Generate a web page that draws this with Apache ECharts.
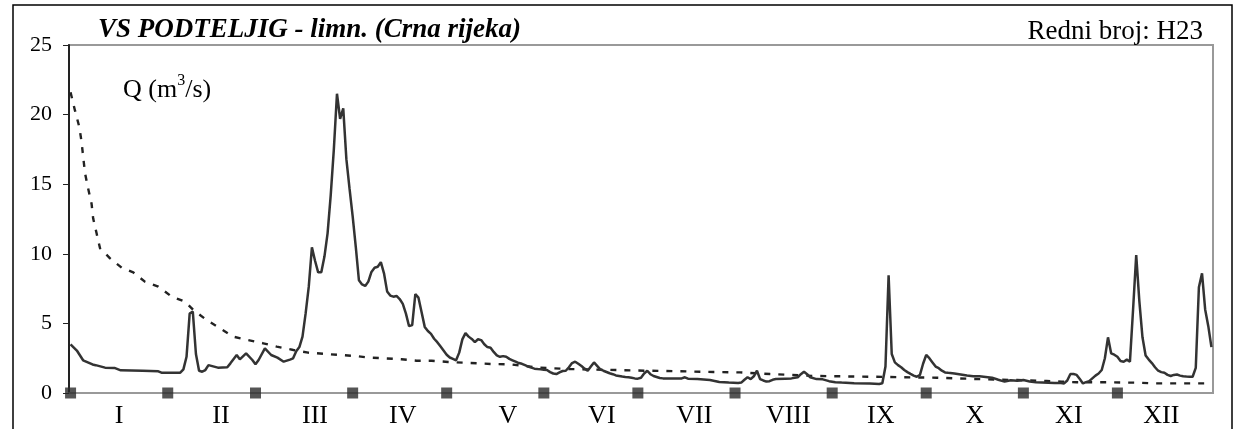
<!DOCTYPE html>
<html>
<head>
<meta charset="utf-8">
<script src="https://cdn.jsdelivr.net/npm/echarts@6/dist/echarts.min.js"></script>
<style>
html,body{margin:0;padding:0;background:#fff;}
#chart{width:1234px;height:429px;}
</style>
</head>
<body>
<div id="chart"></div>
<script>
// ---- data ----
const monthNames = ['I','II','III','IV','V','VI','VII','VIII','IX','X','XI','XII'];
const monthStartDays = [0,31,59,90,120,151,181,212,243,273,304,334];
const monthLabelDays = [15.5,48,78,106,139.5,169.5,199,229,258.5,288.5,318.5,348];
const yTicks = [0,5,10,15,20,25];

const flowDays = [0,2,4,7,8,11,14,16,23,28,29,35,36,37,38,39,40,41,42,43,44,47,50,51,53,54,56,58,59,60,62,64,66,68,70,71,72,73,74,75,76,77,78,79,80,81,82,83,84,85,86,87,88,89,90,91,92,93,94,95,96,97,98,99,100,101,102,103,104,105,106,107,108,109,110,111,112,113,114,115,116,117,118,119,120,121,122,123,124,125,126,127,128,129,130,131,132,133,134,135,136,137,138,139,140,141,142,143,144,145,146,147,148,149,150,151,152,153,154,155,156,157,158,159,160,161,162,163,164,165,166,167,168,169,170,171,172,173,174,175,176,177,178,179,180,181,182,183,184,185,186,187,188,189,192,195,196,197,200,204,207,210,213,214,215,216,217,218,219,220,221,222,223,224,225,228,230,232,233,234,235,236,238,240,242,244,246,250,255,258,259,260,261,262,263,264,265,266,267,268,269,270,271,272,273,274,275,276,277,278,279,280,282,284,286,288,290,292,294,296,298,300,302,304,306,308,310,312,314,316,317,318,319,320,321,322,323,324,325,326,327,328,329,330,331,332,333,334,335,336,337,338,339,340,341,342,343,344,345,346,347,348,349,350,351,352,353,354,355,356,357,358,359,360,361,362,363,364];
const flowValues = [3.5,3.05,2.35,2.05,2.0,1.82,1.8,1.63,1.6,1.56,1.46,1.46,1.7,2.6,5.7,5.85,2.8,1.6,1.53,1.65,2.0,1.82,1.85,2.13,2.73,2.42,2.85,2.37,2.06,2.37,3.2,2.73,2.54,2.25,2.4,2.49,3.0,3.3,4.05,5.72,7.64,10.46,9.5,8.67,8.67,9.8,11.47,14.2,17.5,21.5,19.7,20.45,16.8,14.7,12.7,10.5,8.1,7.8,7.69,8.0,8.7,9.0,9.07,9.4,8.6,7.3,7.0,6.92,6.97,6.75,6.4,5.7,4.8,4.88,7.1,6.85,5.8,4.75,4.45,4.25,3.9,3.65,3.35,3.05,2.75,2.55,2.45,2.35,2.9,3.85,4.3,4.05,3.88,3.65,3.86,3.8,3.5,3.3,3.25,2.95,2.7,2.6,2.65,2.6,2.45,2.35,2.25,2.15,2.1,2.0,1.9,1.82,1.75,1.72,1.7,1.67,1.65,1.5,1.4,1.36,1.48,1.58,1.6,1.85,2.15,2.25,2.1,1.94,1.75,1.6,1.9,2.2,1.95,1.7,1.6,1.51,1.42,1.35,1.26,1.22,1.18,1.15,1.13,1.1,1.05,1.03,1.1,1.4,1.6,1.35,1.22,1.15,1.08,1.05,1.05,1.05,1.13,1.03,1.0,0.93,0.79,0.75,0.72,0.75,0.95,1.13,1.0,1.2,1.6,1.0,0.9,0.82,0.85,0.95,1.0,1.03,1.05,1.13,1.35,1.53,1.35,1.13,1.0,0.98,0.85,0.78,0.75,0.7,0.68,0.65,0.7,1.9,8.45,2.8,2.2,2.0,1.85,1.65,1.5,1.37,1.25,1.17,1.3,2.1,2.73,2.5,2.2,1.9,1.78,1.6,1.48,1.45,1.4,1.33,1.25,1.2,1.2,1.15,1.1,0.95,0.82,0.92,0.88,0.93,0.82,0.77,0.76,0.74,0.72,0.72,0.69,0.9,1.36,1.36,1.3,1.0,0.69,0.78,0.85,1.05,1.25,1.4,1.65,2.5,4.0,2.85,2.75,2.6,2.3,2.25,2.4,2.25,6.0,9.9,6.6,4.0,2.7,2.4,2.15,1.85,1.6,1.5,1.45,1.3,1.22,1.3,1.33,1.25,1.2,1.18,1.17,1.17,1.8,7.6,8.6,6.0,4.8,3.3];

const durDays = [0,1.4,2.8,3.5,4.6,5.6,6.7,7.2,8.3,9.4,12.6,16.3,20,23.7,28,32.3,36.5,39.2,43.4,47.7,51.9,56.7,61.5,65.8,71.1,75.8,81.7,86,90.7,95.5,100.3,105.6,110.4,115.2,120.5,125.3,130.1,134.4,140.2,149.8,154,159.4,174.2,183.8,194.4,205.1,213.6,223.2,238.1,255.1,265.6,276.4,292.3,301.9,311.4,316.2,321,330.6,340.2,345.5,362];
const durValues = [21.6,20.3,19.1,18.05,15.8,14.7,13.6,12.55,11.47,10.4,9.67,9.0,8.67,8.0,7.64,6.92,6.56,5.96,5.24,4.65,4.05,3.8,3.57,3.33,3.09,2.9,2.8,2.73,2.66,2.54,2.49,2.42,2.32,2.32,2.23,2.18,2.13,2.08,2.06,1.82,1.77,1.72,1.65,1.6,1.56,1.51,1.48,1.36,1.22,1.17,1.13,1.1,0.98,0.93,0.86,0.81,0.77,0.77,0.74,0.69,0.69];

// ---- chart ----
const chart = echarts.init(document.getElementById('chart'), null, {renderer:'canvas'});
const serif = 'Liberation Serif';
const flowData = flowDays.map((d,i)=>[d, flowValues[i]]);
const durData = durDays.map((d,i)=>[d, durValues[i]]);
const markerData = monthStartDays.map(d=>[d,0]);

chart.setOption({
  animation:false,
  backgroundColor:'#fff',
  grid:{left:69, right:21, top:45, bottom:36, show:true, borderColor:'#999', borderWidth:2, backgroundColor:'transparent'},
  xAxis:{
    type:'value', min:-0.5, max:364.5,
    axisLine:{show:true, onZero:false, lineStyle:{color:'#999', width:2}},
    axisTick:{show:false},
    splitLine:{show:false},
    axisLabel:{
      customValues: monthLabelDays,
      formatter:(v)=>{const i=monthLabelDays.indexOf(v); return i>=0?monthNames[i]:'';},
      fontFamily:serif, fontSize:26, color:'#000', margin:10
    }
  },
  yAxis:{
    type:'value', min:0, max:25, interval:5,
    axisLine:{show:true, onZero:false, lineStyle:{color:'#222', width:2}},
    axisTick:{show:true, length:6, lineStyle:{color:'#222', width:1}},
    splitLine:{show:false},
    axisLabel:{fontFamily:serif, fontSize:22, color:'#000', margin:17,
      formatter:(v)=> yTicks.indexOf(v)>=0 ? String(v) : ''}
  },
  series:[
    {type:'line', name:'duration', data:durData, showSymbol:false, symbol:'none', z:2,
     lineStyle:{color:'#222', width:2.4, type:[6,8]}},
    {type:'line', name:'flow', data:flowData, showSymbol:false, symbol:'none', z:3,
     lineStyle:{color:'#333', width:2.5}},
    {type:'scatter', name:'months', data:markerData, symbol:'rect', symbolSize:11, clip:false, z:5,
     itemStyle:{color:'#2a2a2a'}}
  ],
  graphic:[
    {type:'rect', z:-1, shape:{x:13, y:5, width:1219, height:440}, style:{fill:'none', stroke:'#000', lineWidth:1.5}},
    {type:'text', x:98, y:44, style:{text:'VS PODTELJIG - limn. (Crna rijeka)', font:'italic bold 27px Liberation Serif', fill:'#000', textAlign:'left', textVerticalAlign:'bottom'}},
    {type:'text', x:1203, y:45, style:{text:'Redni broj: H23', font:'27px Liberation Serif', fill:'#000', textAlign:'right', textVerticalAlign:'bottom'}},
    {type:'text', x:123, y:73, style:{text:'{a|Q (m}{s|3}{a|/s)}', fill:'#000',
      rich:{a:{fontFamily:serif, fontSize:26, lineHeight:30, verticalAlign:'bottom'},
            s:{fontFamily:serif, fontSize:16, lineHeight:30, verticalAlign:'top'}}}}
  ]
});
</script>
</body>
</html>
